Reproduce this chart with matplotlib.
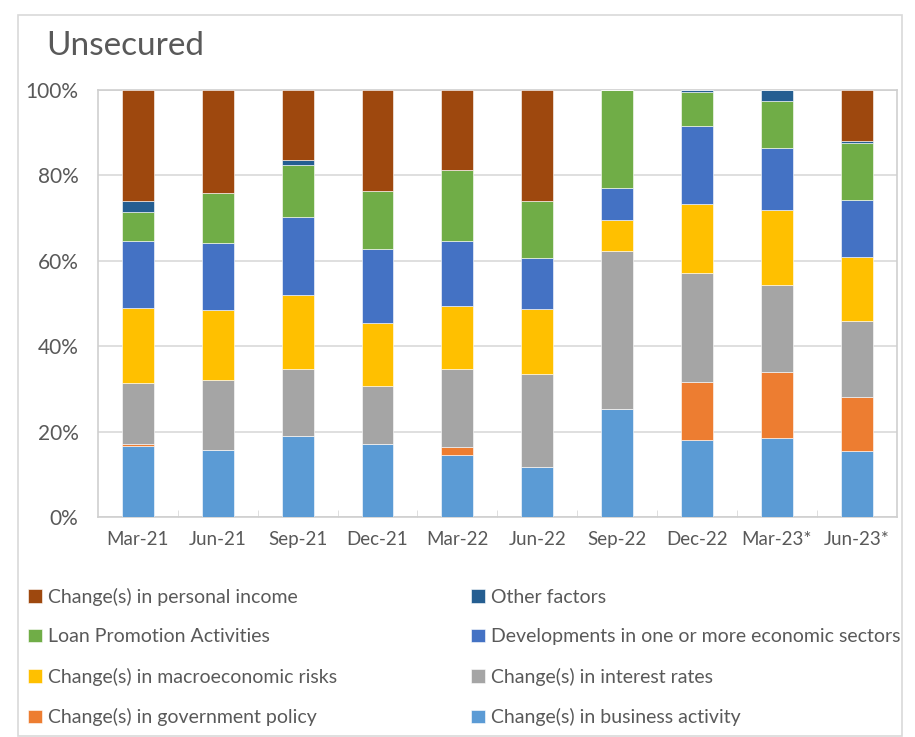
import matplotlib.pyplot as plt
from matplotlib.patches import Rectangle
import numpy as np

plt.rcParams['font.family'] = ['Lato', 'DejaVu Sans']

quarters = ["Mar-21", "Jun-21", "Sep-21", "Dec-21", "Mar-22", "Jun-22",
            "Sep-22", "Dec-22", "Mar-23*", "Jun-23*"]

# shares (%), bottom to top
business = [16.7, 15.6, 18.9, 17.1, 14.5, 11.6, 25.2, 18.0, 18.5, 15.4]
government = [0.3, 0.0, 0.0, 0.0, 1.9, 0.0, 0.0, 13.6, 15.4, 12.6]
interest = [14.3, 16.5, 15.8, 13.6, 18.2, 21.9, 37.2, 25.5, 20.5, 17.9]
macro = [17.6, 16.3, 17.2, 14.8, 14.8, 15.2, 7.2, 16.3, 17.4, 15.0]
developments = [15.8, 15.8, 18.4, 17.3, 15.3, 12.0, 7.5, 18.1, 14.7, 13.4]
loan_promo = [6.8, 11.6, 12.1, 13.5, 16.5, 13.2, 22.9, 7.9, 10.8, 13.3]
other = [2.4, 0.0, 1.2, 0.0, 0.0, 0.0, 0.0, 0.6, 2.7, 0.5]
personal = [26.1, 24.2, 16.4, 23.7, 18.8, 26.1, 0.0, 0.0, 0.0, 11.9]

series = [
    ("Change(s) in business activity", business, "#5B9BD5"),
    ("Change(s) in government policy", government, "#ED7D31"),
    ("Change(s) in interest rates", interest, "#A5A5A5"),
    ("Change(s) in macroeconomic risks", macro, "#FFC000"),
    ("Developments in one or more economic sectors", developments, "#4472C4"),
    ("Loan Promotion Activities", loan_promo, "#70AD47"),
    ("Other factors", other, "#255E91"),
    ("Change(s) in personal income", personal, "#9E480E"),
]

fig = plt.figure(figsize=(9.15, 7.37), dpi=100)
ax = fig.add_axes([0.107, 0.2985, 0.873, 0.5795])

x = np.arange(len(quarters))
bottom = np.zeros(len(quarters))
bars = {}
for name, vals, col in series:
    vals = np.array(vals)
    bars[name] = ax.bar(x, vals, 0.4, bottom=bottom, color=col,
                        edgecolor="white", linewidth=0.4, label=name, zorder=3)
    bottom += vals

ax.set_xlim(-0.5, len(quarters) - 0.5)
ax.set_ylim(0, 100)
ax.set_yticks([0, 20, 40, 60, 80, 100])
ax.set_yticklabels(["0%", "20%", "40%", "60%", "80%", "100%"])
ax.set_xticks(x)
ax.set_xticklabels(quarters)
ax.set_xticks(np.arange(0.5, len(quarters) - 0.5, 1), minor=True)
ax.tick_params(axis="x", which="minor", direction="in", length=5, color="#d9d9d9")
ax.tick_params(axis="x", which="major", length=0, pad=10)
ax.tick_params(axis="y", length=0, pad=14)
ax.tick_params(axis="x", labelsize=13.5, labelcolor="#595959")
ax.tick_params(axis="y", labelsize=15, labelcolor="#595959")
ax.grid(axis="y", color="#d9d9d9", linewidth=1.2, zorder=0)
for s in ax.spines.values():
    s.set_color("#cfcfcf")
    s.set_linewidth(1.2)

fig.text(0.051, 0.925, "Unsecured", fontsize=24, color="#595959")

# outer chart border
fig.add_artist(Rectangle((0.02, 0.002), 0.966, 0.978, transform=fig.transFigure,
                         fill=False, edgecolor="#d9d9d9", linewidth=1.2))

order = ["Change(s) in personal income", "Loan Promotion Activities",
         "Change(s) in macroeconomic risks", "Change(s) in government policy",
         "Other factors", "Developments in one or more economic sectors",
         "Change(s) in interest rates", "Change(s) in business activity"]
leg = fig.legend([bars[n] for n in order], order, ncol=2, loc="upper left",
                 bbox_to_anchor=(0.012, 0.226), frameon=False, fontsize=14,
                 handlelength=0.7, handleheight=0.7, handletextpad=0.3,
                 labelspacing=1.15, columnspacing=6.9)
for t in leg.get_texts():
    t.set_color("#595959")

fig.savefig("out.png", dpi=100)
